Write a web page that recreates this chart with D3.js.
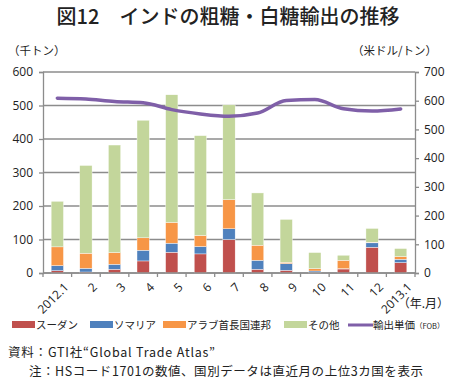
<!DOCTYPE html>
<html>
<head>
<meta charset="utf-8">
<script src="https://cdn.jsdelivr.net/npm/d3@7"></script>
<style>
  body { margin: 0; background: #fff; }
  svg { font-family: "Noto Sans CJK JP", "Noto Sans", sans-serif; }
</style>
</head>
<body>
<svg width="455" height="385"></svg>
<script>
const months = ['2012.1', '2', '3', '4', '5', '6', '7', '8', '9', '10', '11', '12', '2013.1'];
const sudan = [7, 3, 11, 36, 62, 57, 100, 11, 8, 2, 12, 77, 31];
const somalia = [15, 11, 15, 32, 27, 22, 32, 27, 20, 4, 1, 13, 10];
const uae = [56, 45, 35, 37, 62, 33, 87, 45, 4, 7, 25, 2, 8];
const others = [136, 262, 321, 351, 381, 298, 283, 156, 128, 48, 15, 41, 24];
const unitPrice = [609, 606, 597, 593, 569, 554, 546, 557, 601, 604, 572, 564, 571];
const seriesNames = ['スーダン', 'ソマリア', 'アラブ首長国連邦', 'その他'];
const colors = ['#C0504D', '#4F81BD', '#F79646', '#C3D69B'];
const lineColor = '#7F5FA8';

function plotChart() {
  const svg = d3.select('svg');
  const left = 43;
  const right = 415;
  const top = 72;
  const bottom = 273;
  const numFont = '"Open Sans", "Noto Sans", sans-serif';

  const table = months.map((m, i) => ({
    month: m, s0: sudan[i], s1: somalia[i], s2: uae[i], s3: others[i]
  }));
  const stacked = d3.stack().keys(['s0', 's1', 's2', 's3'])(table);

  const xScale = d3.scaleBand().domain(months).range([left, right]).paddingInner(0.57).paddingOuter(0.285);
  const yScale = d3.scaleLinear().domain([0, 600]).range([bottom, top]);
  const y2Scale = d3.scaleLinear().domain([0, 700]).range([bottom, top]);

  svg.append('text')
      .attr('x', 228).attr('y', 24)
      .attr('text-anchor', 'middle')
      .attr('font-size', 20).attr('font-weight', 500).attr('fill', '#222')
      .text('図12　インドの粗糖・白糖輸出の推移');

  // grid
  svg.append('g')
      .selectAll('line')
      .data(yScale.ticks(6))
      .join('line')
      .attr('x1', left).attr('x2', right)
      .attr('y1', d => yScale(d)).attr('y2', d => yScale(d))
      .attr('stroke', '#8c8c8c').attr('stroke-width', 1.3);

  // bars
  svg.append('g')
      .selectAll('g')
      .data(stacked)
      .join('g')
      .attr('fill', (d, i) => colors[i])
      .selectAll('rect')
      .data(d => d)
      .join('rect')
      .attr('x', d => xScale(d.data.month))
      .attr('width', xScale.bandwidth())
      .attr('y', d => yScale(d[1]))
      .attr('height', d => yScale(d[0]) - yScale(d[1]))
      .attr('stroke', '#ffffff').attr('stroke-width', 0.4);

  // axes
  const yAxis = d3.axisLeft(yScale).ticks(6).tickSize(4).tickPadding(6);
  const yG = svg.append('g').attr('transform', `translate(${left},0)`).call(yAxis);
  const y2Axis = d3.axisRight(y2Scale).ticks(7).tickSize(4).tickPadding(5);
  const y2G = svg.append('g').attr('transform', `translate(${right},0)`).call(y2Axis);

  const bandStep = xScale.step();
  const tickPos = d3.range(months.length + 1).map(i => left + i * bandStep);
  const xG = svg.append('g');
  xG.selectAll('line')
      .data(tickPos)
      .join('line')
      .attr('x1', d => d).attr('x2', d => d)
      .attr('y1', bottom).attr('y2', bottom + 4)
      .attr('stroke', '#8c8c8c').attr('stroke-width', 1.3);
  xG.append('line')
      .attr('x1', left).attr('x2', right)
      .attr('y1', bottom).attr('y2', bottom)
      .attr('stroke', '#8c8c8c').attr('stroke-width', 1.3);
  xG.selectAll('text')
      .data(months)
      .join('text')
      .attr('transform', d => `translate(${xScale(d) + xScale.bandwidth() / 2 + 6},${bottom + 9}) rotate(-45)`)
      .attr('text-anchor', 'end')
      .attr('dy', '0.7em')
      .attr('font-size', 12).attr('fill', '#222')
      .style('font-family', numFont)
      .text(d => d);

  [yG, y2G].forEach(g => {
    g.select('.domain').attr('stroke', '#8c8c8c').attr('stroke-width', 1.3);
    g.selectAll('.tick line').attr('stroke', '#8c8c8c').attr('stroke-width', 1.3);
    g.selectAll('.tick text').attr('font-size', 12).attr('fill', '#222')
        .style('font-family', numFont);
  });

  // line
  const line = d3.line()
      .x((d, i) => xScale(months[i]) + xScale.bandwidth() / 2)
      .y(d => y2Scale(d))
      .curve(d3.curveMonotoneX);
  svg.append('path')
      .attr('d', line(unitPrice))
      .attr('fill', 'none')
      .attr('stroke', lineColor)
      .attr('stroke-width', 3.5)
      .attr('stroke-linecap', 'round');

  // unit labels
  svg.append('text').attr('x', 8).attr('y', 55)
      .attr('font-size', 11.5).attr('fill', '#222').text('（千トン）');
  svg.append('text').attr('x', 437).attr('y', 55).attr('text-anchor', 'end')
      .attr('font-size', 11.5).attr('fill', '#222').text('（米ドル/トン）');
  svg.append('text').attr('x', 449).attr('y', 308).attr('text-anchor', 'end')
      .attr('font-size', 12).attr('fill', '#222').text('（年.月）');

  // legend
  const legendX = [12, 90, 163, 284];
  const legend = svg.append('g');
  seriesNames.forEach((name, i) => {
    legend.append('rect')
        .attr('x', legendX[i]).attr('y', 321).attr('width', 23).attr('height', 7)
        .attr('fill', colors[i]);
    legend.append('text')
        .attr('x', legendX[i] + 24).attr('y', 329)
        .attr('font-size', 10.5).attr('fill', '#222').text(name);
  });
  legend.append('line')
      .attr('x1', 348).attr('x2', 373).attr('y1', 325).attr('y2', 325)
      .attr('stroke', lineColor).attr('stroke-width', 3);
  const lt = legend.append('text').attr('x', 373).attr('y', 329).attr('fill', '#222');
  lt.append('tspan').attr('font-size', 10.5).text('輸出単価');
  lt.append('tspan').attr('font-size', 7.5).text('（FOB）');

  svg.append('text').attr('x', 8).attr('y', 357)
      .attr('font-size', 12.5).attr('fill', '#222')
      .attr('textLength', 207).attr('lengthAdjust', 'spacing')
      .text('資料：GTI社“Global Trade Atlas”');

  svg.append('text').attr('x', 29).attr('y', 376)
      .attr('font-size', 12.5).attr('fill', '#222')
      .attr('textLength', 394).attr('lengthAdjust', 'spacing')
      .text('注：HSコード1701の数値、国別データは直近月の上位3カ国を表示');
}

plotChart();
</script>
</body>
</html>
